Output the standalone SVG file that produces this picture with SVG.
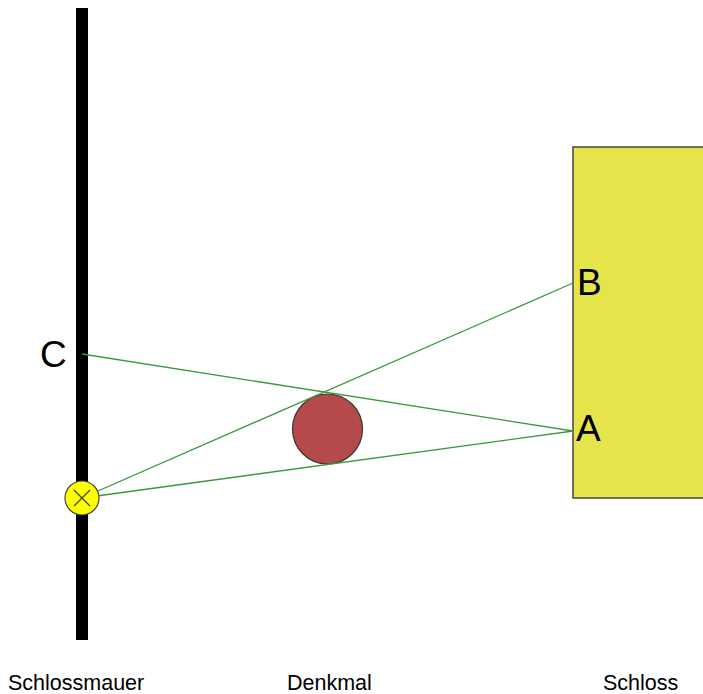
<svg xmlns="http://www.w3.org/2000/svg" width="703" height="694" viewBox="0 0 703 694">
<style>
.lbl{font-family:"Liberation Sans",Arial,sans-serif;fill:#000}
.big{font-size:37px}
.small{font-size:21.5px}
.ray{stroke:#3a9a3a;stroke-width:1.3;fill:none}
</style>
<rect width="703" height="694" fill="#fff"/>
<g id="wall"><rect x="76" y="8" width="12" height="632" fill="#000"/></g>
<g id="schloss"><rect x="573" y="147" width="135" height="351" fill="#e5e44b" stroke="#444" stroke-width="1.5"/></g>
<g id="denkmal"><circle cx="327.5" cy="429" r="35" fill="#b44a4a" stroke="#333" stroke-width="1.2"/></g>
<g id="connectors">
<line class="ray" x1="82" y1="354" x2="573" y2="431"/>
<line class="ray" x1="82" y1="498" x2="573" y2="283"/>
<line class="ray" x1="82" y1="498" x2="573" y2="431"/>
</g>
<g id="observer">
<circle cx="82" cy="498" r="17" fill="#ffff00" stroke="#444" stroke-width="1.2"/>
<line x1="74" y1="490" x2="90" y2="506" stroke="#444" stroke-width="1.2"/>
<line x1="90" y1="490" x2="74" y2="506" stroke="#444" stroke-width="1.2"/>
</g>
<text class="lbl big" x="40" y="367">C</text>
<text class="lbl big" x="577" y="295">B</text>
<text class="lbl big" x="576" y="441">A</text>
<text class="lbl small" x="8" y="690">Schlossmauer</text>
<text class="lbl small" x="287" y="690">Denkmal</text>
<text class="lbl small" x="603" y="690">Schloss</text>
</svg>
